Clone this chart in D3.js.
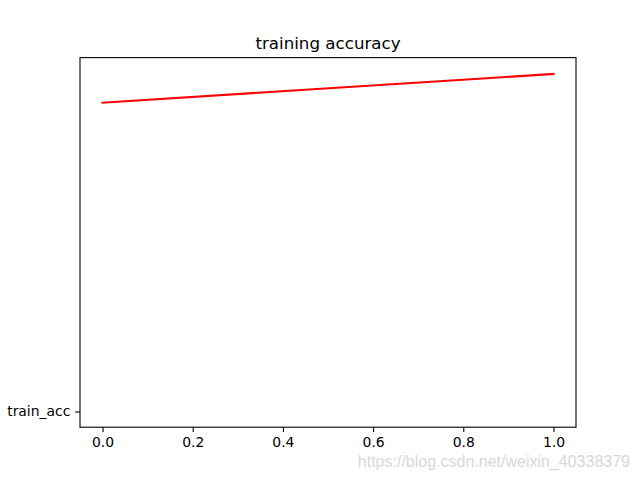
<!DOCTYPE html>
<html><head><meta charset="utf-8">
<script src="https://cdn.jsdelivr.net/npm/d3@7"></script>
<style>body{margin:0;background:#fff}svg{display:block}</style>
</head><body>
<svg id="c" width="640" height="480"></svg>
<script>
const epochs = [0, 1];
const trainAcc = [0.8512, 0.9303];
const yCategory = ["train_acc"];
const xTicks = [0, 0.2, 0.4, 0.6, 0.8, 1.0];
const titleText = "training accuracy";
const watermark = "https://blog.csdn.net/weixin_40338379";

const svg = d3.select("#c");
const L = 80, R = 576, T = 57.6, B = 427.2;
const font = "DejaVu Sans, sans-serif";

const x = d3.scaleLinear().domain([-0.05, 1.05]).range([L, R]);
const hi = d3.max(trainAcc), lo = 0;
const span = hi - lo;
const y = d3.scaleLinear().domain([lo - 0.0465 * span, hi + 0.0485 * span]).range([B, T]);

// line
svg.append("path")
  .datum(epochs.map((e, i) => [e, trainAcc[i]]))
  .attr("fill", "none").attr("stroke", "#ff0000").attr("stroke-width", 2.08)
  .attr("stroke-linecap", "square")
  .attr("d", d3.line().x(d => x(d[0])).y(d => y(d[1])));

// axes
const xAxis = d3.axisBottom(x).tickValues(xTicks).tickFormat(d3.format(".1f")).tickSizeInner(4.86).tickSizeOuter(0).tickPadding(4.86);
const gx = svg.append("g").attr("transform", `translate(0,${B})`).call(xAxis);
const catScale = d3.scalePoint().domain(yCategory).range([y(0), y(0)]);
const yAxis = d3.axisLeft(catScale).tickSizeInner(4.86).tickSizeOuter(0).tickPadding(4.86);
const gy = svg.append("g").attr("transform", `translate(${L},0)`).call(yAxis);
[gx, gy].forEach(g => {
  g.select(".domain").remove();
  g.selectAll("line").attr("stroke", "#000").attr("stroke-width", 1.1);
  g.selectAll("text").attr("font-family", font).attr("font-size", "13.9px").attr("fill", "#000");
});

// frame
svg.append("rect").attr("x", L).attr("y", T).attr("width", R - L).attr("height", B - T)
  .attr("fill", "none").attr("stroke", "#000").attr("stroke-width", 1.1);

// title
svg.append("text").attr("x", (L + R) / 2).attr("y", T - 8.3)
  .attr("text-anchor", "middle").attr("font-family", font).attr("font-size", "16.7px")
  .text(titleText);

// watermark
svg.append("text").attr("x", 630).attr("y", 467).attr("text-anchor", "end")
  .attr("font-family", "Liberation Sans, Arial, sans-serif").attr("font-size", "16px")
  .attr("fill", "#d8d8d8").text(watermark);
</script>
</body></html>
